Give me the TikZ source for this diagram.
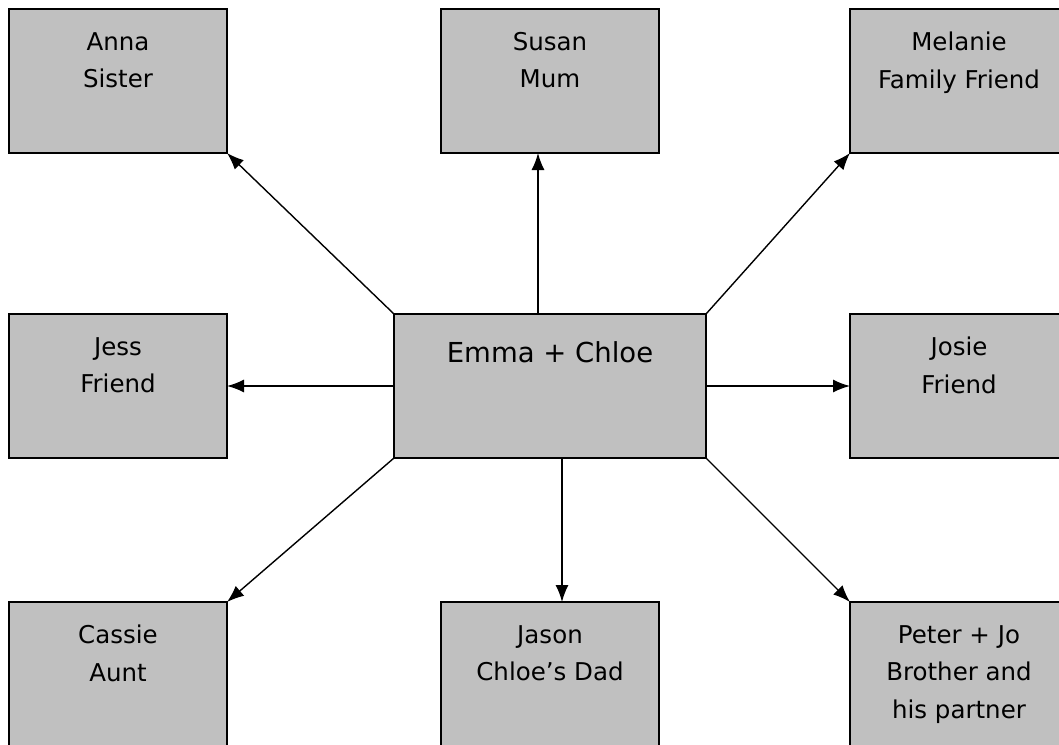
\documentclass[tikz,border=0pt]{standalone}
\usepackage{fontspec}
\setmainfont{DejaVu Sans}
\usetikzlibrary{arrows.meta,calc}
\definecolor{boxgray}{RGB}{192,192,192}
\begin{document}
\begin{tikzpicture}[x=1pt,y=-1pt,
  box/.style={draw=black,line width=1.8pt,fill=boxgray,minimum width=218pt,minimum height=144pt,inner sep=0pt,outer sep=0pt},
  bigbox/.style={box,minimum width=312pt},
  lbl/.style={anchor=base,align=center,font=\fontsize{24.5}{37.5}\selectfont,inner sep=0pt},
  biglbl/.style={anchor=base,font=\fontsize{27.5}{37}\selectfont,inner sep=0pt},
  arr/.style={line width=1.4pt,-{Latex[length=17pt,width=13pt]}}]
\useasboundingbox (0,0) rectangle (1059,744);
\clip (0,0) rectangle (1059,744);
% boxes
\node[bigbox] (ec) at (550,386) {};
\node[box] (anna) at (118,81) {};
\node[box] (susan) at (550,81) {};
\node[box] (melanie) at (959,81) {};
\node[box] (jess) at (118,386) {};
\node[box] (josie) at (959,386) {};
\node[box] (cassie) at (118,674) {};
\node[box] (jason) at (550,674) {};
\node[box] (peter) at (959,674) {};
% labels
\node[biglbl] (tec) at ($(ec.north)+(0,48)$) {Emma + Chloe};
\node[lbl,anchor=north] (tanna) at ($(anna.north)+(0,23)$) {Anna\\Sister};
\node[lbl,anchor=north] (tsusan) at ($(susan.north)+(0,23)$) {Susan\\Mum};
\node[lbl,anchor=north] (tmel) at ($(melanie.north)+(0,23)$) {Melanie\\Family Friend};
\node[lbl,anchor=north] (tjess) at ($(jess.north)+(0,23)$) {Jess\\Friend};
\node[lbl,anchor=north] (tjosie) at ($(josie.north)+(0,23)$) {Josie\\Friend};
\node[lbl,anchor=north] (tcassie) at ($(cassie.north)+(0,23)$) {Cassie\\Aunt};
\node[lbl,anchor=north] (tjason) at ($(jason.north)+(0,23)$) {Jason\\Chloe’s Dad};
\node[lbl,anchor=north] (tpeter) at ($(peter.north)+(0,23)$) {Peter + Jo\\Brother and\\his partner};
% arrows
\draw[arr] (ec.north west) -- (anna.south east);
\draw[arr] ([xshift=-12pt]ec.north) -- ([xshift=-12pt]susan.south);
\draw[arr] (ec.north east) -- (melanie.south west);
\draw[arr] (ec.west) -- (jess.east);
\draw[arr] (ec.east) -- (josie.west);
\draw[arr] (ec.south west) -- (cassie.north east);
\draw[arr] ([xshift=12pt]ec.south) -- ([xshift=12pt]jason.north);
\draw[arr] (ec.south east) -- (peter.north west);
\end{tikzpicture}
\end{document}
